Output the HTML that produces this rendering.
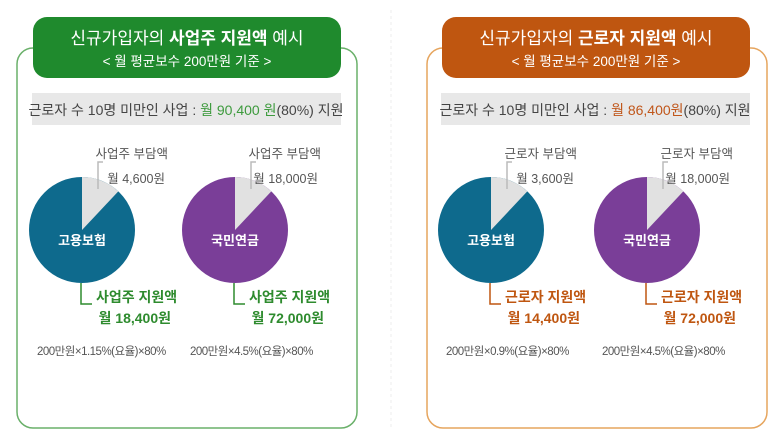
<!DOCTYPE html>
<html><head><meta charset="utf-8"><style>
html,body{margin:0;padding:0;background:#fff;width:775px;height:434px;overflow:hidden}
svg{display:block;font-family:"Liberation Sans","Noto Sans CJK KR",sans-serif}
</style></head><body>
<svg id="c" width="775" height="434" viewBox="0 0 775 434">
  <line x1="391" y1="10" x2="391" y2="430" stroke="#eee" stroke-dasharray="3,3"/>
  <!-- left panel -->
  <g>
    <rect x="17" y="48" width="340" height="380" rx="16" fill="#fff" stroke="#6ab06a" stroke-width="1.5"/>
    <rect x="33" y="17" width="308" height="61" rx="14" fill="#1f8a2d"/>
    <text x="187" y="44" text-anchor="middle" fill="#fff" font-size="17">신규가입자의 <tspan font-weight="bold">사업주 지원액</tspan> 예시</text>
    <text x="187" y="66" text-anchor="middle" fill="#fff" font-size="13.5">&lt; 월 평균보수 200만원 기준 &gt;</text>
    <rect x="32" y="93" width="309" height="32" fill="#e8e8e8"/>
    <text x="186" y="115" text-anchor="middle" fill="#444" font-size="14">근로자 수 10명 미만인 사업 : <tspan fill="#3d9a3d">월 90,400 원</tspan>(80%) 지원</text>
  </g>
  <g>
    <rect x="427" y="48" width="340" height="380" rx="16" fill="#fff" stroke="#e6a55e" stroke-width="1.5"/>
    <rect x="442" y="17" width="308" height="61" rx="14" fill="#bf5610"/>
    <text x="596" y="44" text-anchor="middle" fill="#fff" font-size="17">신규가입자의 <tspan font-weight="bold">근로자 지원액</tspan> 예시</text>
    <text x="596" y="66" text-anchor="middle" fill="#fff" font-size="13.5">&lt; 월 평균보수 200만원 기준 &gt;</text>
    <rect x="441" y="93" width="309" height="32" fill="#e8e8e8"/>
    <text x="595" y="115" text-anchor="middle" fill="#444" font-size="14">근로자 수 10명 미만인 사업 : <tspan fill="#c0561a">월 86,400원</tspan>(80%) 지원</text>
  </g>
  <g id="pies"></g>
</svg>
<script>
const pieNames = ["고용보험","국민연금","고용보험","국민연금"];
const burdenLabels = ["사업주 부담액","사업주 부담액","근로자 부담액","근로자 부담액"];
const burdenValues = ["월 4,600원","월 18,000원","월 3,600원","월 18,000원"];
const supportLabels = ["사업주 지원액","사업주 지원액","근로자 지원액","근로자 지원액"];
const supportValues = ["월 18,400원","월 72,000원","월 14,400원","월 72,000원"];
const formulas = ["200만원×1.15%(요율)×80%","200만원×4.5%(요율)×80%","200만원×0.9%(요율)×80%","200만원×4.5%(요율)×80%"];
const burdenShare = [0.12,0.12,0.12,0.12];

const NS="http://www.w3.org/2000/svg";
const g=document.getElementById('pies');
const centers=[82,235,491,647], cy=230, r=53;
const fills=["#0e6a8d","#7a3e98","#0e6a8d","#7a3e98"];
const accents=["#2e8b2e","#2e8b2e","#bf5610","#bf5610"];
function mk(tag,attrs,txt){const e=document.createElementNS(NS,tag);for(const k in attrs)e.setAttribute(k,attrs[k]);if(txt!==undefined)e.textContent=txt;g.appendChild(e);return e;}
pieNames.forEach((n,i)=>{
  const cx=centers[i];
  const c=mk('circle',{cx:cx,cy:cy,r:r,fill:fills[i]});
  
  
  const a=burdenShare[i]*2*Math.PI;
  const x=cx+r*Math.sin(a), y=cy-r*Math.cos(a);
  const w=mk('path',{d:`M${cx},${cy} L${cx},${cy-r} A${r},${r} 0 ${a>Math.PI?1:0} 1 ${x},${y} Z`,fill:"#e1e1e1"});
  
  
  const t=mk('text',{x:cx,y:cy+15,'text-anchor':'middle',fill:'#fff','font-size':13,'font-weight':'bold'},n);
  
  
  const l1=mk('path',{d:`M${cx+21},${cy-68} L${cx+16},${cy-68} L${cx+16},${cy-41}`,fill:'none',stroke:'#bbb','stroke-width':1.5});
  
  
  const bl=mk('text',{x:cx+86,y:cy-72,'text-anchor':'end',fill:'#555','font-size':12.5},burdenLabels[i]);
  
  
  const bv=mk('text',{x:cx+83,y:cy-47,'text-anchor':'end',fill:'#555','font-size':12.5},burdenValues[i]);
  
  
  const l2=mk('path',{d:`M${cx-1},${cy+53} L${cx-1},${cy+74} L${cx+10},${cy+74}`,fill:'none',stroke:accents[i],'stroke-width':1.5});
  
  
  const sl=mk('text',{x:cx+14,y:cy+72,fill:accents[i],'font-size':14,'font-weight':'bold'},supportLabels[i]);
  
  
  const sv=mk('text',{x:cx+89,y:cy+93,'text-anchor':'end',fill:accents[i],'font-size':14,'font-weight':'bold'},supportValues[i]);
  
  
  const f=mk('text',{x:cx-45,y:cy+125,fill:'#555','font-size':11.5,'letter-spacing':'-0.5'},formulas[i]);
  
  
});
</script>
</body></html>
